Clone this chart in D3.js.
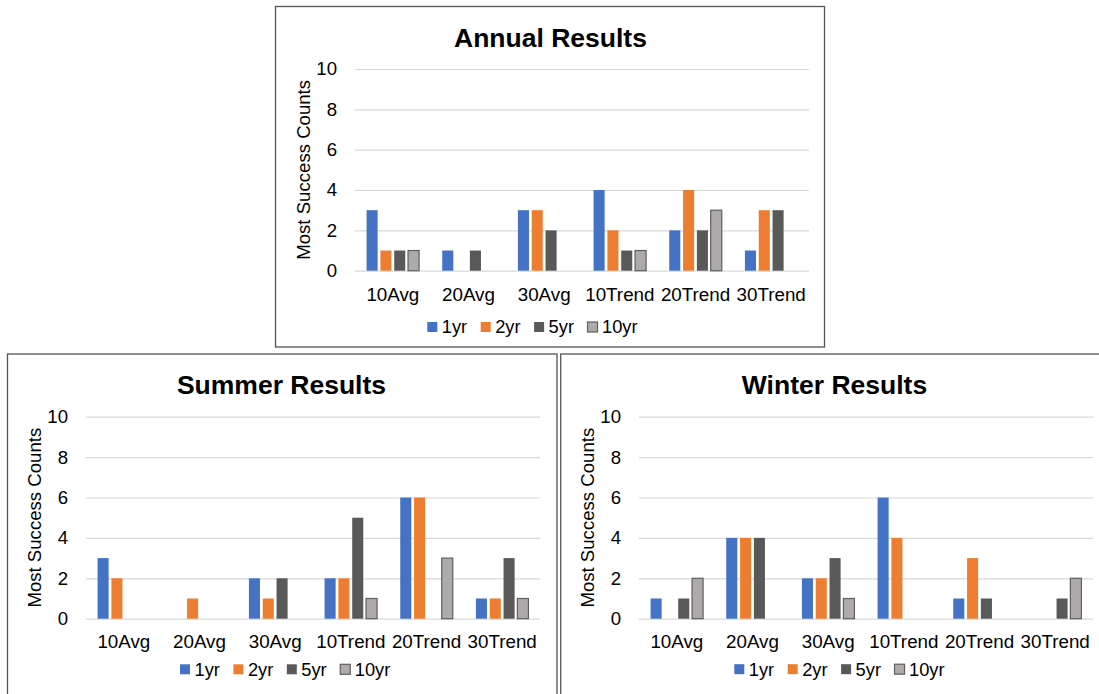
<!DOCTYPE html>
<html>
<head>
<meta charset="utf-8">
<script src="https://cdn.jsdelivr.net/npm/d3@7/dist/d3.min.js"></script>
<style>
  html, body { margin: 0; padding: 0; background: #ffffff; }
  svg { display: block; font-family: "Liberation Sans", Arial, sans-serif; }
</style>
</head>
<body>
<svg id="chart" width="1099" height="694"></svg>
<script>
// ---------- data ----------
const categories = ["10Avg", "20Avg", "30Avg", "10Trend", "20Trend", "30Trend"];
const seriesNames = ["1yr", "2yr", "5yr", "10yr"];
const yTicks = [0, 2, 4, 6, 8, 10];
const chartTitles = ["Annual Results", "Summer Results", "Winter Results"];
const yAxisTitle = "Most Success Counts";

const annual1yr  = [3, 1, 3, 4, 2, 1];
const annual2yr  = [1, 0, 3, 2, 4, 3];
const annual5yr  = [1, 1, 2, 1, 2, 3];
const annual10yr = [1, 0, 0, 1, 3, 0];

const summer1yr  = [3, 0, 2, 2, 6, 1];
const summer2yr  = [2, 1, 1, 2, 6, 1];
const summer5yr  = [0, 0, 2, 5, 0, 3];
const summer10yr = [0, 0, 0, 1, 3, 1];

const winter1yr  = [1, 4, 2, 6, 1, 0];
const winter2yr  = [0, 4, 2, 4, 3, 0];
const winter5yr  = [1, 4, 3, 0, 1, 1];
const winter10yr = [2, 0, 1, 0, 0, 2];

// ---------- styles / layout ----------
const fills   = ["#4472C4", "#ED7D31", "#595959", "#AEAAAA"];
const strokes = ["none", "none", "none", "#5f5f5f"];

const panels = [
  { title: chartTitles[0], series: [annual1yr, annual2yr, annual5yr, annual10yr],
    box: { x: 275.5, y: 6.5, w: 549, h: 340.5 },
    plot: { left: 355, right: 809, top: 69, bottom: 270.7 },
    legendX: 427.3, legendY: 322, catDy: 30.3 },
  { title: chartTitles[1], series: [summer1yr, summer2yr, summer5yr, summer10yr],
    box: { x: 7.5, y: 354, w: 549.5, h: 360 },
    plot: { left: 86, right: 540, top: 416.7, bottom: 618.7 },
    legendX: 180, legendY: 664.3, catDy: 29 },
  { title: chartTitles[2], series: [winter1yr, winter2yr, winter5yr, winter10yr],
    box: { x: 560.7, y: 354, w: 580, h: 360 },
    plot: { left: 639, right: 1093, top: 416.7, bottom: 618.7 },
    legendX: 734.3, legendY: 664.2, catDy: 29 }
];

const svg = d3.select("#chart");

panels.forEach(p => {
  const g = svg.append("g");

  // panel border
  g.append("rect")
    .attr("x", p.box.x).attr("y", p.box.y)
    .attr("width", p.box.w).attr("height", p.box.h)
    .attr("fill", "#ffffff")
    .attr("stroke", "#555555").attr("stroke-width", 1.3);

  const x0 = d3.scaleBand().domain(categories).range([p.plot.left, p.plot.right]).padding(0);
  const bw = x0.bandwidth();
  const x1 = d3.scaleBand().domain(seriesNames)
    .range([bw * 0.153, bw * 0.847]).paddingInner(0.2).paddingOuter(0);
  const y = d3.scaleLinear().domain([0, 10]).range([p.plot.bottom, p.plot.top]);

  // gridlines + y tick labels via axis
  const yAxis = d3.axisLeft(y).tickValues(yTicks)
    .tickSize(-(p.plot.right - p.plot.left)).tickPadding(18).tickFormat(d3.format("d"));
  const ya = g.append("g").attr("transform", `translate(${p.plot.left},0)`).call(yAxis);
  ya.select(".domain").remove();
  ya.selectAll(".tick line").attr("stroke", "#D9D9D9").attr("stroke-width", 1.2);
  ya.selectAll(".tick text")
    .attr("font-size", 18.6).attr("fill", "#000").attr("font-family", "Liberation Sans, Arial, sans-serif");

  // bars
  const groups = g.append("g").selectAll("g")
    .data(categories).join("g")
    .attr("transform", d => `translate(${x0(d)},0)`);
  groups.selectAll("rect")
    .data((c, ci) => seriesNames.map((s, si) => ({ s, si, v: p.series[si][ci] })))
    .join("rect")
    .filter(d => d.v > 0)
    .attr("x", d => x1(d.s))
    .attr("y", d => y(d.v))
    .attr("width", x1.bandwidth())
    .attr("height", d => y(0) - y(d.v))
    .attr("fill", d => fills[d.si])
    .attr("stroke", d => strokes[d.si])
    .attr("stroke-width", d => strokes[d.si] === "none" ? 0 : 1.2);

  // category axis
  const xAxis = d3.axisBottom(x0).tickSize(0).tickPadding(0);
  const xa = g.append("g").attr("transform", `translate(0,${p.plot.bottom})`).call(xAxis);
  xa.select(".domain").remove();
  xa.selectAll(".tick text")
    .attr("dy", null).attr("y", p.catDy)
    .attr("font-size", 18.8).attr("fill", "#000").attr("font-family", "Liberation Sans, Arial, sans-serif");

  // title
  g.append("text")
    .attr("x", p.plot.left + 195.5).attr("y", p.box.y + 40.2)
    .attr("text-anchor", "middle")
    .attr("font-size", 26.5).attr("font-weight", "bold").attr("fill", "#000")
    .text(p.title);

  // y axis title
  const yMid = (p.plot.top + p.plot.bottom) / 2;
  g.append("text")
    .attr("transform", `translate(${p.plot.left - 45},${yMid}) rotate(-90)`)
    .attr("text-anchor", "middle")
    .attr("font-size", 18.6).attr("fill", "#000")
    .text(yAxisTitle);

  // legend
  const lg = g.append("g");
  let lx = p.legendX;
  seriesNames.forEach((s, i) => {
    lg.append("rect")
      .attr("x", lx).attr("y", p.legendY)
      .attr("width", 10).attr("height", 10)
      .attr("fill", fills[i])
      .attr("stroke", strokes[i])
      .attr("stroke-width", strokes[i] === "none" ? 0 : 1.2);
    const t = lg.append("text")
      .attr("x", lx + 14.5).attr("y", p.legendY + 11.3)
      .attr("font-size", 18.3).attr("fill", "#000")
      .text(s);
    const tw = t.node().getComputedTextLength();
    lx += 14.5 + tw + 13.5;
  });
});
</script>
</body>
</html>
